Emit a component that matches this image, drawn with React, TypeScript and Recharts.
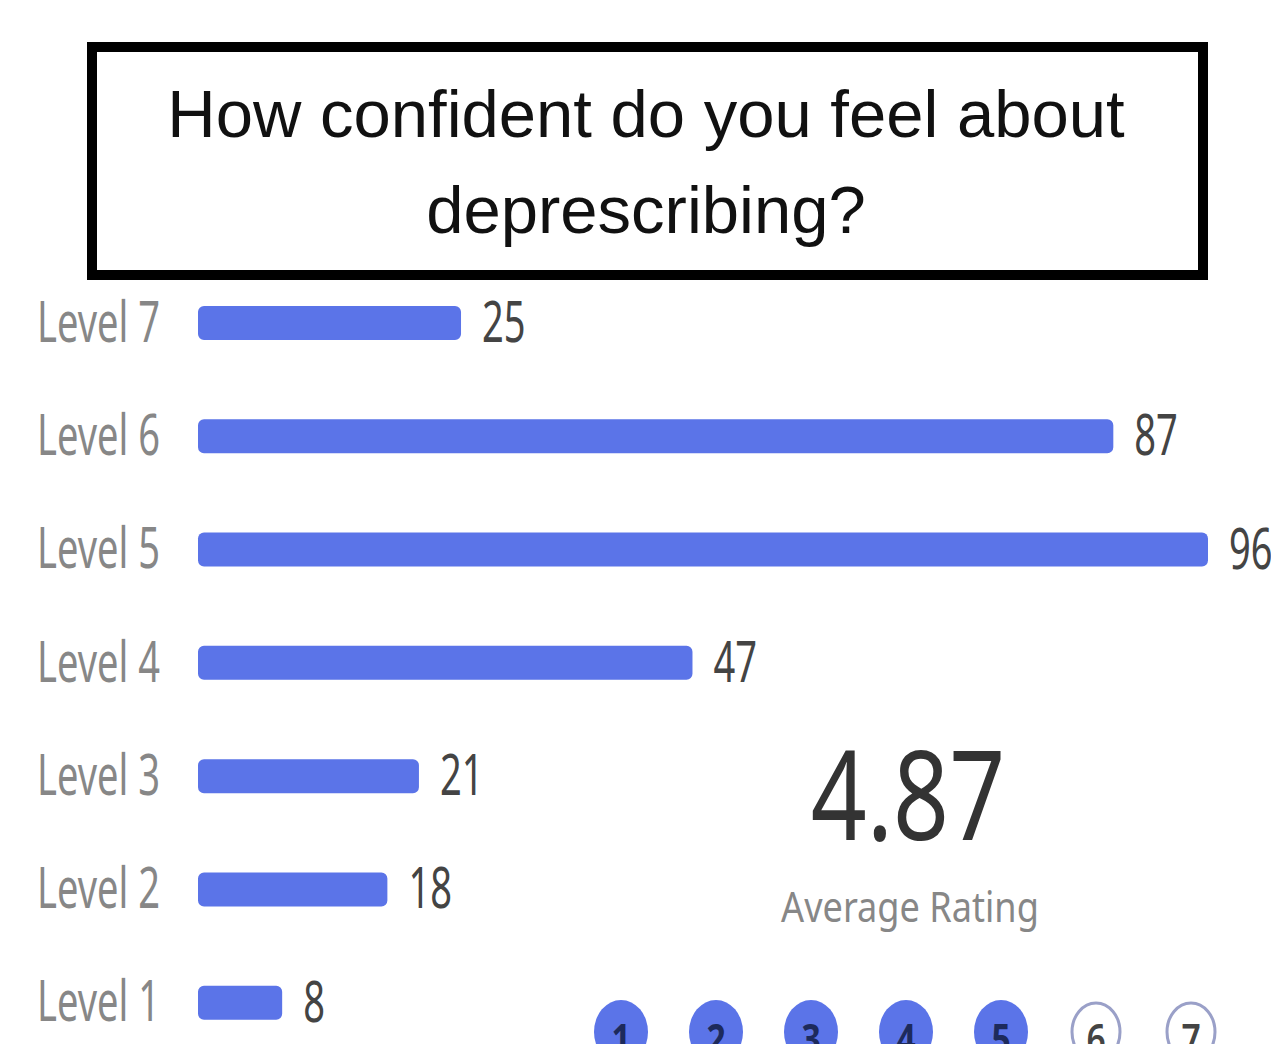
import React from "react";
import { BarChart, Bar, XAxis, YAxis, LabelList } from "recharts";

const levels = ["Level 7", "Level 6", "Level 5", "Level 4", "Level 3", "Level 2", "Level 1"];
const counts = [25, 87, 96, 47, 21, 18, 8];
const titleLines = ["How confident do you feel about", "deprescribing?"];
const averageRating = "4.87";
const averageLabel = "Average Rating";
const scalePoints = [1, 2, 3, 4, 5, 6, 7];
const filledUpTo = 5;

const data = levels.map((l, i) => ({ level: l, count: counts[i] }));

const BAR = "#5b74e8";
const FONT = "'Noto Sans', sans-serif";

const LevelTick = (props: any) => {
  const { x, y, payload } = props;
  return (
    <g transform={`translate(${x},${y + 19}) scale(0.68,1)`}>
      <text x={0} y={0} textAnchor="end" fill="#878787" fontSize={56} fontFamily={FONT}>
        {payload.value}
      </text>
    </g>
  );
};

const ValueLabel = (props: any) => {
  const { x, y, width, height, value } = props;
  const lx = x + width + 21;
  const ly = y + height / 2 + 19;
  return (
    <g transform={`translate(${lx},${ly}) scale(0.68,1)`}>
      <text x={0} y={0} textAnchor="start" fill="#444" fontSize={56} fontFamily={FONT}>
        {value}
      </text>
    </g>
  );
};

export default function App() {
  return (
    <div
      style={{
        position: "absolute",
        left: 0,
        top: 0,
        width: 1271,
        height: 1044,
        overflow: "hidden",
        background: "#ffffff",
      }}
    >
      <div
        style={{
          position: "absolute",
          left: 87,
          top: 42,
          width: 1121,
          height: 238,
          boxSizing: "border-box",
          border: "10px solid #000",
          background: "#fff",
        }}
      />
      <svg
        width={1271}
        height={300}
        style={{ position: "absolute", left: 0, top: 0 }}
      >
        {titleLines.map((t, i) => (
          <text
            key={t}
            x={646}
            y={137 + i * 96}
            textAnchor="middle"
            fontFamily="'Liberation Sans', Arial, sans-serif"
            fontSize={67}
            fill="#111"
          >
            {t}
          </text>
        ))}
      </svg>
      <div style={{ position: "absolute", left: 0, top: 0 }}>
        <BarChart
          width={1271}
          height={1060}
          data={data}
          layout="vertical"
          margin={{ top: 266, right: 63, left: 0, bottom: 1 }}
          barCategoryGap={0}
        >
          <XAxis type="number" domain={[0, 96]} hide />
          <YAxis
            type="category"
            dataKey="level"
            width={198}
            axisLine={false}
            tickLine={false}
            tickSize={0}
            tickMargin={38}
            tick={<LevelTick />}
            interval={0}
          />
          <Bar
            dataKey="count"
            fill={BAR}
            barSize={34}
            radius={6}
            isAnimationActive={false}
          >
            <LabelList dataKey="count" content={<ValueLabel />} />
          </Bar>
        </BarChart>
      </div>
      <svg
        width={1271}
        height={1044}
        style={{ position: "absolute", left: 0, top: 0, pointerEvents: "none" }}
      >
        <g transform="translate(908,840) scale(0.79,1)">
          <text x={0} y={0} textAnchor="middle" fontFamily={FONT} fontSize={124} fill="#333">
            {averageRating}
          </text>
        </g>
        <g transform="translate(910,922) scale(0.86,1)">
          <text x={0} y={0} textAnchor="middle" fontFamily={FONT} fontSize={42} fill="#878787">
            {averageLabel}
          </text>
        </g>
        {scalePoints.map((p, i) => {
          const cx = 621 + i * 95;
          const filled = p <= filledUpTo;
          return (
            <g key={p}>
              <ellipse
                cx={cx}
                cy={1032}
                rx={filled ? 27 : 24}
                ry={filled ? 32 : 29}
                fill={filled ? BAR : "#fff"}
                stroke={filled ? BAR : "#9aa0c8"}
                strokeWidth={filled ? 0 : 3}
              />
              <g transform={`translate(${cx},${1054}) scale(0.8,1)`}>
                <text
                  x={0}
                  y={0}
                  textAnchor="middle"
                  fontFamily={FONT}
                  fontWeight={filled ? 700 : 600}
                  fontSize={42}
                  fill={filled ? "#1d2a5c" : "#444"}
                >
                  {p}
                </text>
              </g>
            </g>
          );
        })}
      </svg>
    </div>
  );
}
